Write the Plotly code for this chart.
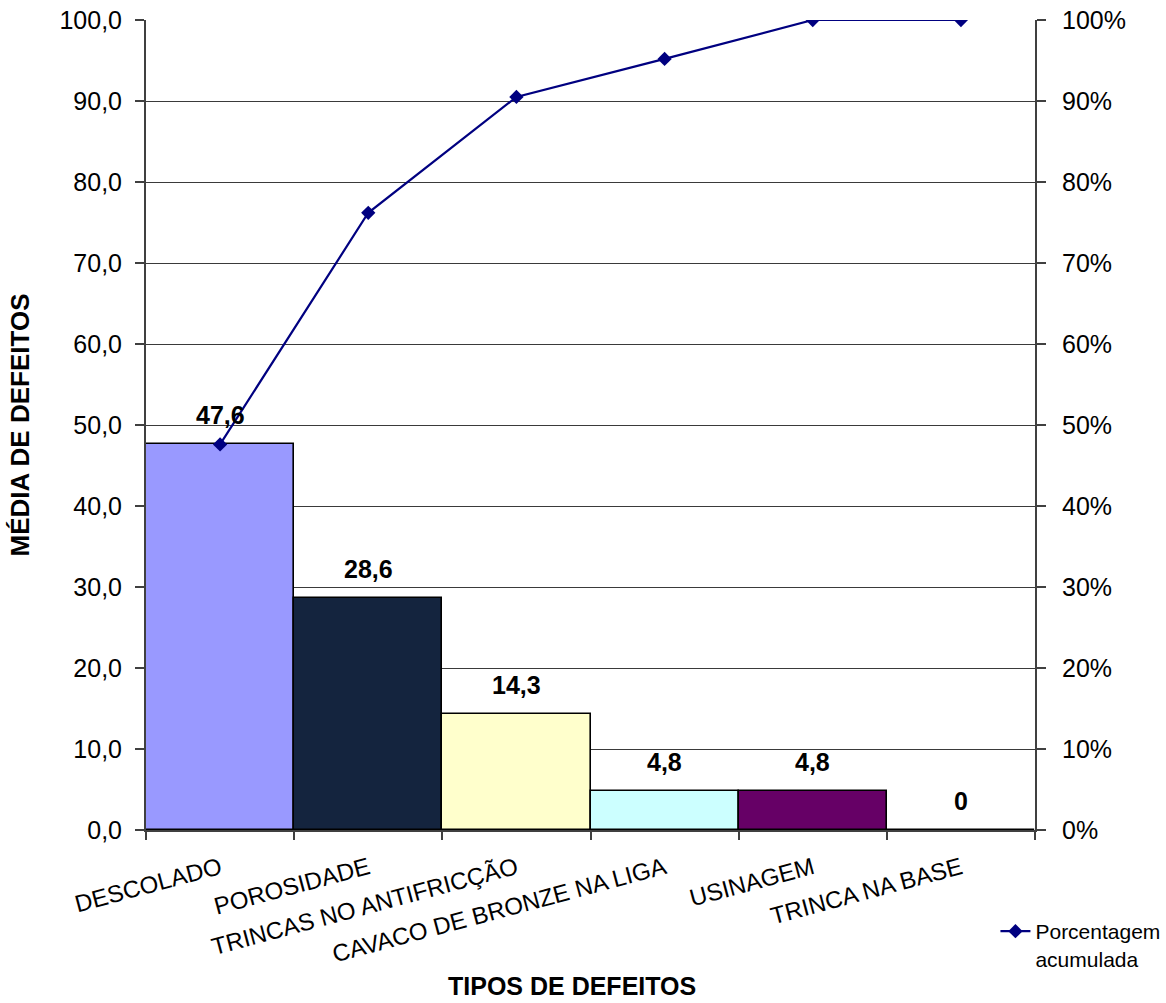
import plotly.graph_objects as go

# Pareto data: defect types, mean number of defects and cumulative share
categories = [
    "DESCOLADO",
    "POROSIDADE",
    "TRINCAS NO ANTIFRICÇÃO",
    "CAVACO DE BRONZE NA LIGA",
    "USINAGEM",
    "TRINCA NA BASE",
]
mean_defects = [47.6, 28.6, 14.3, 4.8, 4.8, 0]
cumulative_pct = [0.476, 0.762, 0.905, 0.952, 1.0, 1.0]
bar_colors = ["#9999FF", "#14243E", "#FFFFCC", "#CCFFFF", "#660066", "#FFFFFF"]

FONT = "Arial, Liberation Sans, sans-serif"


def pt_label(v):
    return "0" if v == 0 else f"{v:.1f}".replace(".", ",")


fig = go.Figure()

fig.add_trace(go.Bar(
    x=categories,
    y=mean_defects,
    marker=dict(color=bar_colors, line=dict(color="#000000", width=1.6)),
    showlegend=False,
    hoverinfo="x+y",
))

fig.add_trace(go.Scatter(
    x=categories,
    y=cumulative_pct,
    yaxis="y2",
    mode="lines+markers",
    name="Porcentagem<br>acumulada",
    line=dict(color="#000080", width=2.2),
    marker=dict(symbol="diamond", size=11, color="#000080"),
))

# value labels above each bar
for cat, v in zip(categories, mean_defects):
    fig.add_annotation(
        x=cat, y=v, xref="x", yref="y",
        text=f"<b>{pt_label(v)}</b>",
        showarrow=False, yanchor="bottom", yshift=13,
        font=dict(family=FONT, size=25, color="#000000"),
    )

# horizontal axis title
fig.add_annotation(
    x=0.479, y=-0.193, xref="paper", yref="paper",
    text="<b>TIPOS DE DEFEITOS</b>", showarrow=False,
    xanchor="center", yanchor="middle",
    font=dict(family=FONT, size=25, color="#000000"),
)

axis_color = "#404040"

fig.update_layout(
    width=1166,
    height=1003,
    margin=dict(l=146, r=131, t=20, b=173, autoexpand=False),
    paper_bgcolor="#FFFFFF",
    plot_bgcolor="#FFFFFF",
    separators=",.",
    bargap=0,
    font=dict(family=FONT, color="#000000"),
    xaxis=dict(
        type="category",
        automargin=False,
        tickangle=-15,
        tickfont=dict(family=FONT, size=24, color="#000000"),
        ticks="outside",
        tickson="boundaries",
        ticklen=8,
        tickcolor=axis_color,
        tickwidth=1.5,
        showline=True,
        linecolor=axis_color,
        linewidth=2,
        showgrid=False,
        ticklabelstandoff=13,
    ),
    yaxis=dict(
        automargin=False,
        range=[0, 100],
        dtick=10,
        tickformat=".1f",
        tickfont=dict(family=FONT, size=25, color="#000000"),
        ticks="outside",
        ticklen=9,
        tickcolor=axis_color,
        tickwidth=1.5,
        showline=True,
        linecolor=axis_color,
        linewidth=2,
        showgrid=True,
        gridcolor="#3a3a3a",
        gridwidth=1.3,
        zeroline=False,
        ticklabelstandoff=8,
        title=dict(
            text="<b>MÉDIA DE DEFEITOS</b>",
            font=dict(family=FONT, size=26, color="#000000"),
            standoff=22,
        ),
    ),
    yaxis2=dict(
        automargin=False,
        overlaying="y",
        side="right",
        range=[0, 1],
        dtick=0.1,
        tickformat=".0%",
        tickfont=dict(family=FONT, size=25, color="#000000"),
        ticks="outside",
        ticklen=9,
        tickcolor=axis_color,
        tickwidth=1.5,
        showline=True,
        linecolor=axis_color,
        linewidth=2,
        showgrid=False,
        zeroline=False,
        ticklabelstandoff=11,
    ),
    legend=dict(
        x=0.9555, y=-0.1, xanchor="left", yanchor="top",
        xref="paper", yref="paper",
        bgcolor="rgba(0,0,0,0)",
        font=dict(family=FONT, size=21, color="#000000"),
        valign="top",
    ),
)

fig.write_html("out.html")
